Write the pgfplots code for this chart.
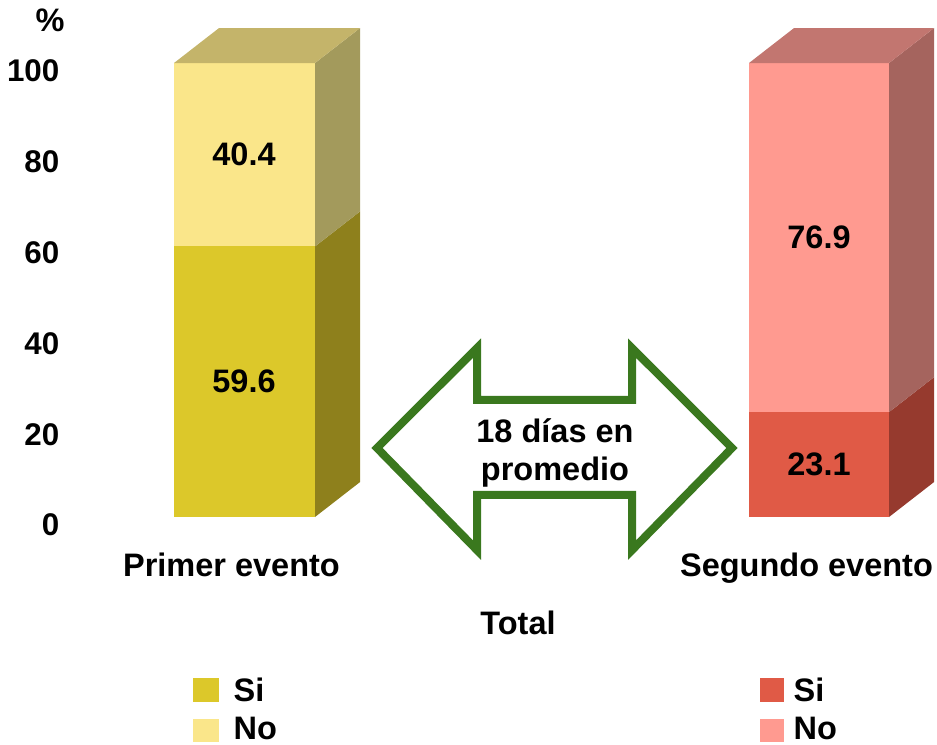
\documentclass[border=0pt]{standalone}
\usepackage{fontspec}
\setmainfont{Liberation Sans}
\usepackage{pgfplots}
\pgfplotsset{compat=1.18}

\definecolor{ysiF}{HTML}{DCC82A}
\definecolor{ysiS}{HTML}{8E801C}
\definecolor{ynoF}{HTML}{FAE68A}
\definecolor{ynoS}{HTML}{A39A5C}
\definecolor{ynoT}{HTML}{C4B46A}
\definecolor{rsiF}{HTML}{E05A46}
\definecolor{rsiS}{HTML}{963A2E}
\definecolor{rnoF}{HTML}{FF9A90}
\definecolor{rnoS}{HTML}{A5645E}
\definecolor{rnoT}{HTML}{C27670}
\definecolor{arrowgreen}{HTML}{3A781E}

\newcommand{\lab}{\fontsize{9.75}{11}\selectfont\bfseries}

\begin{document}
\begin{tikzpicture}
\begin{axis}[
name=ax,
scale only axis,
width=281.1pt, height=223.2pt,
xmin=0, xmax=937,
ymin=-50, ymax=113.88,
axis line style={draw=none},
xtick=\empty,
ytick={0,20,40,60,80,100},
major tick length=0pt,
/pgf/number format/assume math mode=true,
yticklabel style={font=\fontsize{9.4}{11}\selectfont\bfseries, anchor=east, inner sep=0pt, xshift=18pt, yshift=-2.4pt},
clip=false,
]
% Primer evento: Si 59.6, No 40.4
\addplot [fill=ysiF, draw=none] coordinates {(174,0) (315,0) (315,59.6) (174,59.6)} -- cycle;
\addplot [fill=ysiS, draw=none] coordinates {(315,0) (360,7.7) (360,67.3) (315,59.6)} -- cycle;
\addplot [fill=ynoF, draw=none] coordinates {(174,59.6) (315,59.6) (315,100) (174,100)} -- cycle;
\addplot [fill=ynoS, draw=none] coordinates {(315,59.6) (360,67.3) (360,107.7) (315,100)} -- cycle;
\addplot [fill=ynoT, draw=none] coordinates {(174,100) (315,100) (360,107.7) (219,107.7)} -- cycle;
% Segundo evento: Si 23.1, No 76.9
\addplot [fill=rsiF, draw=none] coordinates {(749,0) (889,0) (889,23.1) (749,23.1)} -- cycle;
\addplot [fill=rsiS, draw=none] coordinates {(889,0) (934,7.7) (934,30.8) (889,23.1)} -- cycle;
\addplot [fill=rnoF, draw=none] coordinates {(749,23.1) (889,23.1) (889,100) (749,100)} -- cycle;
\addplot [fill=rnoS, draw=none] coordinates {(889,23.1) (934,30.8) (934,107.7) (889,100)} -- cycle;
\addplot [fill=rnoT, draw=none] coordinates {(749,100) (889,100) (934,107.7) (794,107.7)} -- cycle;

\node[font=\lab] at (axis cs:244,29.8) {59.6};
\node[font=\lab] at (axis cs:244,79.8) {40.4};
\node[font=\lab] at (axis cs:819,11.55) {23.1};
\node[font=\lab] at (axis cs:819,61.55) {76.9};

% double arrow
\draw[arrowgreen, line width=2.4pt, fill=white, line join=miter]
  (axis cs:377,15.2) -- (axis cs:477,37.2) -- (axis cs:477,25.8) -- (axis cs:632,25.8)
  -- (axis cs:632,37.2) -- (axis cs:732,15.2) -- (axis cs:632,-7.3) -- (axis cs:632,4.85)
  -- (axis cs:477,4.85) -- (axis cs:477,-7.3) -- cycle;
\node[font=\lab, anchor=base] at (axis cs:555,16.5) {18 días en};
\node[font=\lab, anchor=base] at (axis cs:555,8.15) {promedio};

\node[font=\lab] at (axis cs:50,109.5) {\%};
\node[font=\lab, anchor=base] at (axis cs:231.5,-13.2) {Primer evento};
\node[font=\lab, anchor=base] at (axis cs:806.5,-13.2) {Segundo evento};
\node[font=\lab, anchor=base] at (axis cs:518,-25.8) {Total};

% legends
\fill[ysiF] (axis cs:193,-35.5) rectangle (axis cs:219,-40.7);
\fill[ynoF] (axis cs:193,-44.5) rectangle (axis cs:219,-49.6);
\node[font=\lab, anchor=base west, inner sep=0pt] at (axis cs:233,-40.7) {Si};
\node[font=\lab, anchor=base west, inner sep=0pt] at (axis cs:233,-49.0) {No};
\fill[rsiF] (axis cs:760,-35.5) rectangle (axis cs:784,-40.7);
\fill[rnoF] (axis cs:760,-44.5) rectangle (axis cs:784,-49.6);
\node[font=\lab, anchor=base west, inner sep=0pt] at (axis cs:793,-40.7) {Si};
\node[font=\lab, anchor=base west, inner sep=0pt] at (axis cs:793,-49.0) {No};
\end{axis}
\pgfresetboundingbox
\useasboundingbox (ax.south west) rectangle (ax.north east);
\end{tikzpicture}
\end{document}
